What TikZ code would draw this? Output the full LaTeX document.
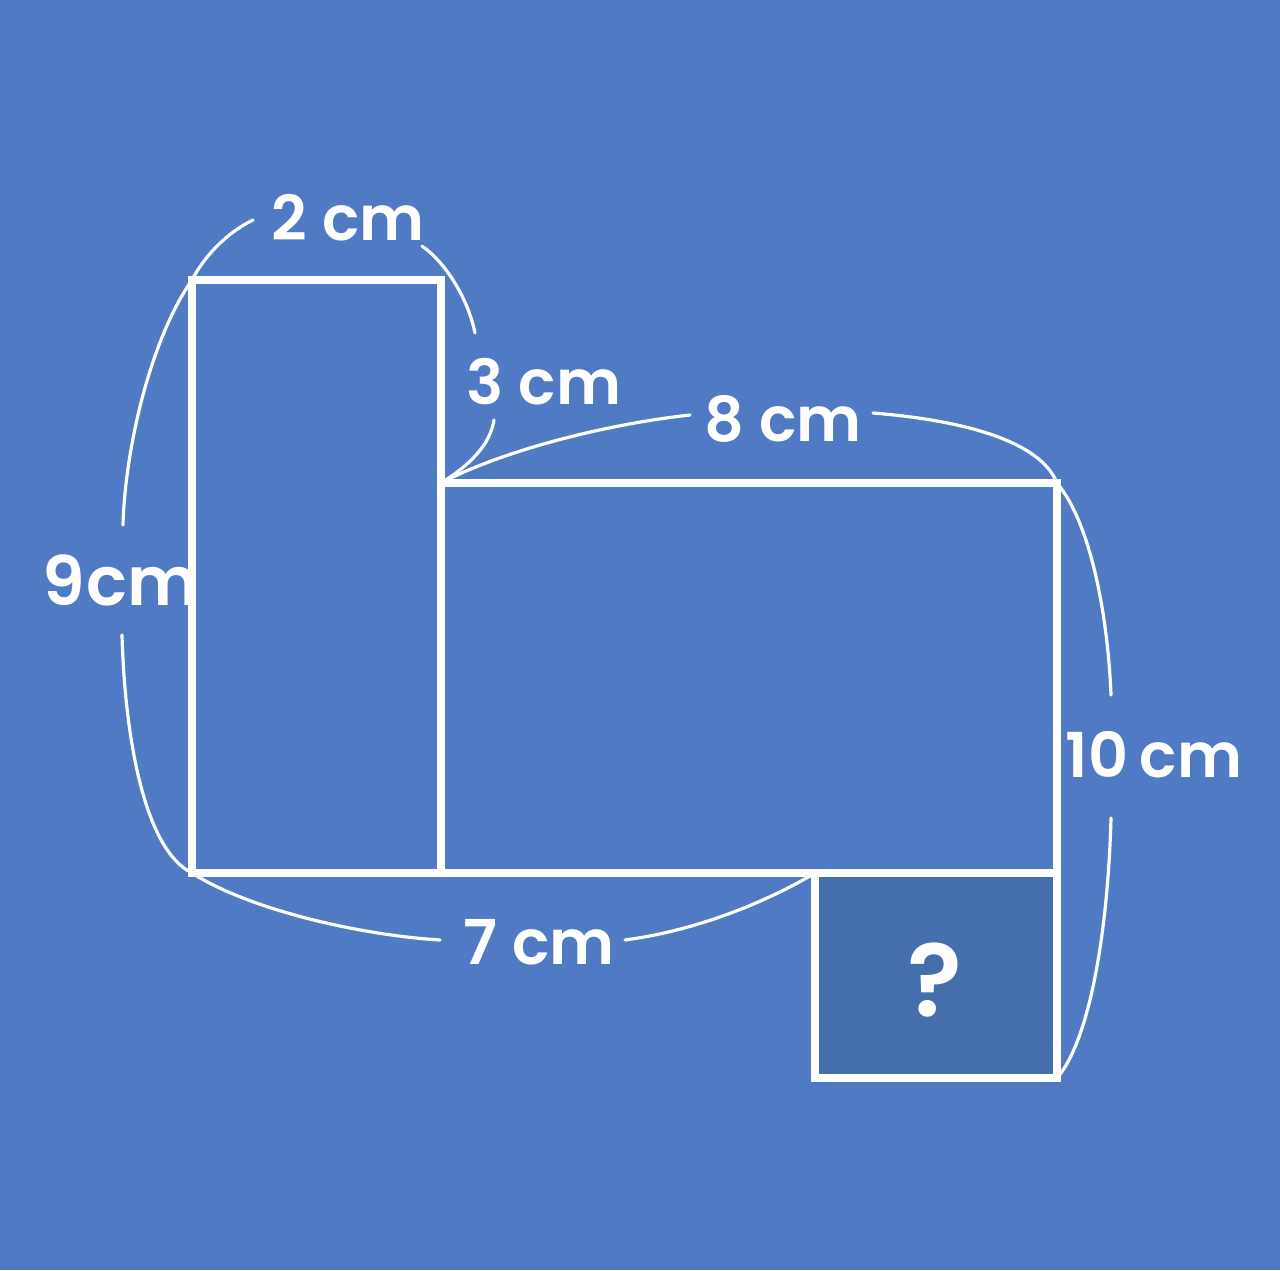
\documentclass[tikz,border=0pt]{standalone}
\usepackage{fontspec}
\setmainfont{Poppins}[BoldFont={Poppins SemiBold}]
\usepackage{tikz}
\definecolor{bgblue}{RGB}{80,123,196}
\definecolor{qblue}{RGB}{68,110,172}
\tikzset{
    every node/.style={text=white, inner sep=0pt,
    	font=\bfseries\fontsize{31}{31}\selectfont}
}
\tikzset{
    side/.style={draw=white, line width=3.6pt}
}
\tikzset{
	arcline/.style={draw=white, line width=1.6pt, line cap=round}
}

\begin{document}
\begin{tikzpicture}[x=0.5pt, y=-0.5pt]
	\fill[bgblue] (0,0) rectangle (1280,1270);
	\coordinate (a) at (192,280);
	\coordinate (b) at (441,280);
	\coordinate (c) at (441,483);
	\coordinate (d) at (1057,483);
	\coordinate (e) at (1057,873);
	\coordinate (f) at (192,873);
	\coordinate (k) at (441,873);
	\coordinate (g) at (815,873);
	\coordinate (i) at (1057,1078);
	\fill[qblue] (g) rectangle (i);
	\draw[side] (g) rectangle (i);
	\draw[side] (a) rectangle (k);
	\draw[side] (c) rectangle (e);
	\node (l2) at (348,218) {2 cm};
	\node (l3) at (544,382) {3 cm};
	\node (l8) at (783,419) {8 cm};
	\node (l10) at (1154,755) {10\kern-0.05em\ cm};
	\node[font=\bfseries\fontsize{34}{34}\selectfont] (l9) at (121,580) {9\kern0.02em cm};
	\node (l7) at (539,942) {7 cm};
	\node[font=\bfseries\fontsize{51}{51}\selectfont] (q) at (935,980) {?};
	\coordinate (a2) at (253,220); \coordinate (b2) at (422,246);
	\coordinate (c3) at (475,333); \coordinate (a3) at (494,420);
	\coordinate (a8) at (690,415); \coordinate (b8) at (873,413);
	\coordinate (a10) at (1111,695); \coordinate (b10) at (1111,818);
	\coordinate (a9) at (123,525); \coordinate (b9) at (122,635);
	\coordinate (a7) at (440,940); \coordinate (b7) at (625,940);
	\draw[arcline] (a) .. controls (205,255) and (228,232) .. (a2);
	\draw[arcline] (b2) .. controls (445,262) and (468,298) .. (c3);
	\draw[arcline] (a3) .. controls (490,445) and (470,465) .. (c);
	\draw[arcline] (c) .. controls (500,452) and (600,425) .. (a8);
	\draw[arcline] (b8) .. controls (960,420) and (1040,440) .. (d);
	\draw[arcline] (d) .. controls (1092,525) and (1108,620) .. (a10);
	\draw[arcline] (b10) .. controls (1108,930) and (1090,1040) .. (i);
	\draw[arcline] (a) .. controls (150,340) and (125,450) .. (a9);
	\draw[arcline] (b9) .. controls (125,740) and (145,850) .. (f);
	\draw[arcline] (f) .. controls (250,910) and (360,935) .. (a7);
	\draw[arcline] (b7) .. controls (700,930) and (770,900) .. (g);
\end{tikzpicture}
\end{document}
